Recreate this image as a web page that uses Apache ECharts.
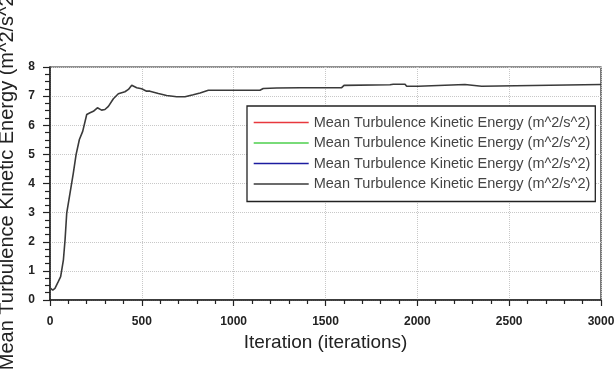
<!DOCTYPE html>
<html>
<head>
<meta charset="utf-8">
<script src="https://cdn.jsdelivr.net/npm/echarts@6/dist/echarts.min.js"></script>
<style>
  html, body { margin: 0; padding: 0; background: #fff; }
  #chart { width: 616px; height: 372px; }
</style>
</head>
<body>
<div id="chart"></div>
<script>
// Monitor data
const iterations = [0, 15, 27, 45, 58, 73, 82, 91, 109, 127, 142, 160, 178, 200, 218, 236, 258, 281, 299, 318,
  345, 372, 408, 427, 445, 472, 499, 526, 544, 590, 635, 690, 735, 780, 817, 862, 1143, 1161, 1234, 1361,
  1588, 1601, 1851, 1869, 1933, 1942, 2005, 2014, 2259, 2268, 2350, 2359, 3000];
const tke = [0.42, 0.34, 0.40, 0.63, 0.80, 1.38, 2.07, 2.98, 3.67, 4.36, 4.99, 5.51, 5.79, 6.37, 6.43, 6.48, 6.60, 6.52, 6.54, 6.65,
  6.91, 7.08, 7.15, 7.23, 7.37, 7.29, 7.25, 7.17, 7.17, 7.09, 7.02, 6.98, 6.98, 7.05, 7.11, 7.20, 7.20, 7.26, 7.28, 7.29,
  7.29, 7.37, 7.39, 7.41, 7.41, 7.34, 7.34, 7.40, 7.40, 7.34, 7.34, 7.40, 7.40];

const legendLabel = "Mean Turbulence Kinetic Energy (m^2/s^2)";
const seriesKeys = ["tke-red", "tke-green", "tke-blue", "tke-black"];
const seriesColors = ["#e8383d", "#4ccf4c", "#1c1ca0", "#3a3a3a"];

const chart = echarts.init(document.getElementById("chart"));

const mainData = iterations.map((it, i) => [it, tke[i]]);

// only the black monitor has points, the others just show up in the legend
const series = seriesKeys.map((key, i) => ({
  name: key,
  type: "line",
  symbol: "none",
  animation: false,
  data: i === 3 ? mainData : [],
  itemStyle: { color: seriesColors[i] },
  lineStyle: { color: seriesColors[i], width: i === 3 ? 1.6 : 1.4 },
  z: i === 3 ? 5 : 2,
}));

chart.setOption({
  animation: false,
  textStyle: { fontFamily: "Liberation Sans, Arial, sans-serif" },
  grid: {
    left: 50,
    right: 15,
    top: 67,
    bottom: 72,
    outerBoundsMode: "none",
    containLabel: false,
    show: true,
    borderColor: "#222",
    borderWidth: 1.2,
  },
  legend: {
    orient: "vertical",
    left: 247,
    top: 106,
    padding: [9, 5, 10, 6],
    itemWidth: 55,
    itemHeight: 14,
    itemGap: 5.5,
    borderColor: "#222",
    borderWidth: 1.3,
    backgroundColor: "#fff",
    data: seriesKeys,
    itemStyle: { opacity: 0 },
    lineStyle: { width: 1.4 },
    formatter: () => legendLabel,
    textStyle: {
      fontSize: 14.5,
      color: "#444",
      width: 284,
      fontFamily: "Liberation Sans, Arial, sans-serif",
    },
  },
  xAxis: {
    type: "value",
    min: 0,
    max: 3000,
    interval: 500,
    name: "Iteration (iterations)",
    nameLocation: "middle",
    nameGap: 33,
    nameTextStyle: { fontSize: 19, color: "#222" },
    axisLine: { lineStyle: { color: "#222", width: 1.5 } },
    axisTick: { show: true, inside: false, length: 6, lineStyle: { color: "#222", width: 1.2 } },
    minorTick: { show: true, splitNumber: 5, length: 4, lineStyle: { color: "#222", width: 1.2 } },
    axisLabel: {
      fontSize: 12,
      fontWeight: "bold",
      color: "#222",
      margin: 16,
      formatter: (v) => String(v),
    },
    splitLine: { show: true, lineStyle: { color: "#c8c8c8", type: "dotted", width: 1 } },
  },
  yAxis: {
    type: "value",
    min: 0,
    max: 8,
    interval: 1,
    name: legendLabel,
    nameLocation: "middle",
    nameGap: 27,
    nameTextStyle: { fontSize: 20, color: "#222", padding: [0, 0, 0, 8] },
    axisLine: { show: true, lineStyle: { color: "#222", width: 1.5 } },
    axisTick: { show: true, inside: false, length: 7, lineStyle: { color: "#222", width: 1.2 } },
    minorTick: { show: true, splitNumber: 4, length: 5, lineStyle: { color: "#222", width: 1.2 } },
    axisLabel: { fontSize: 12, fontWeight: "bold", color: "#222", margin: 15 },
    splitLine: { show: true, lineStyle: { color: "#c8c8c8", type: "dotted", width: 1 } },
  },
  series,
});
</script>
</body>
</html>
